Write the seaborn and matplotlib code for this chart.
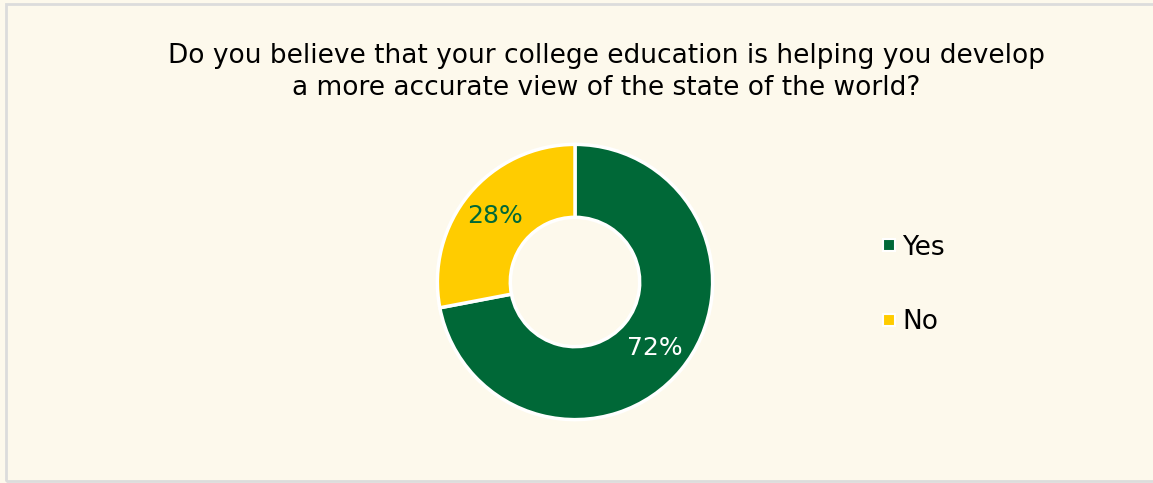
import matplotlib
matplotlib.use("Agg")
import matplotlib.pyplot as plt
from matplotlib.lines import Line2D
from matplotlib.patches import Rectangle
import seaborn as sns

# Survey responses
answers = ["Yes", "No"]
shares = [72, 28]
colors = ["#006837", "#FFCC00"]
label_colors = ["white", "#006837"]
title = ("Do you believe that your college education is helping you develop\n"
         "a more accurate view of the state of the world?")

sns.set_theme(style="white")
plt.rcParams["font.family"] = ["DejaVu Sans"]

bg = "#FDF9EC"
W, H = 1153, 483
fig = plt.figure(figsize=(W / 100, H / 100), dpi=100, facecolor=bg)

# Light frame around the card
fig.patches.append(Rectangle((5.5 / W, 1 - 481 / H), (W + 10) / W, (481 - 3.5) / H,
                             transform=fig.transFigure, facecolor="none",
                             edgecolor="#DCDCDC", linewidth=2, zorder=0))

fig.text(606 / W, 1 - 72 / H, title, ha="center", va="center",
         fontsize=19, color="#000000", linespacing=1.3)

ax = fig.add_axes([436 / W, 1 - 421 / H, 278 / W, 278 / H])
ax.set_facecolor("none")
wedges, texts, autotexts = ax.pie(
    shares, colors=colors, startangle=90, counterclock=False,
    autopct=lambda p: f"{p:.0f}%", pctdistance=0.75,
    wedgeprops=dict(width=0.53, edgecolor="white", linewidth=2.5),
    textprops=dict(fontsize=18),
)
for t, c in zip(autotexts, label_colors):
    t.set_color(c)
ax.set_xlim(-1.01, 1.01)
ax.set_ylim(-1.01, 1.01)
ax.set_aspect("equal")
ax.axis("off")

handles = [Line2D([], [], marker="s", linestyle="none", markersize=8,
                  markerfacecolor=c, markeredgecolor="white", markeredgewidth=1.5)
           for c in colors]
leg = fig.legend(handles, answers, loc="center left",
                 bbox_to_anchor=(852 / W, 1 - 285 / H), frameon=False,
                 fontsize=19, labelspacing=1.85, handletextpad=0.0, handlelength=1.0)
for t in leg.get_texts():
    t.set_color("#000000")

fig.savefig("out.png", dpi=100, facecolor=bg)
